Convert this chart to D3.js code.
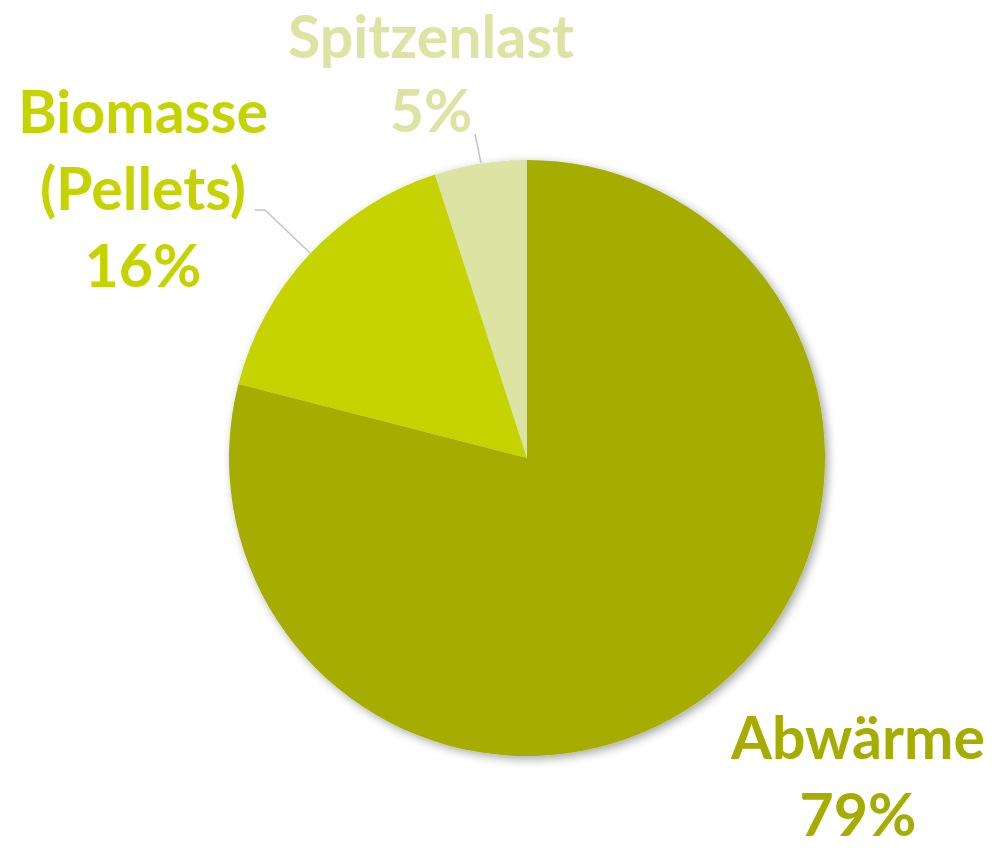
<!DOCTYPE html>
<html>
<head>
<meta charset="utf-8">
<script src="https://cdn.jsdelivr.net/npm/d3@7"></script>
<style>
  body { margin: 0; background: #fff; }
  svg text { font-family: Lato, "Open Sans", sans-serif; font-weight: 700; }
</style>
</head>
<body>
<svg id="chart" width="995" height="849"></svg>
<script>
// Anteile der Wärmeerzeugung
const labels = ["Abwärme", "Biomasse\n(Pellets)", "Spitzenlast"];
const values = [79, 16, 5];
const colors = ["#a4ad00", "#c5d400", "#dce3a3"];

const width = 995, height = 849;
const cx = 527, cy = 458, radius = 298;
const fontSize = 59, lineH = 77;

const svg = d3.select("#chart");

const defs = svg.append("defs");
const shadow = defs.append("filter").attr("id", "shadow")
    .attr("x", "-10%").attr("y", "-10%").attr("width", "120%").attr("height", "120%");
shadow.append("feDropShadow")
    .attr("dx", 3).attr("dy", 3).attr("stdDeviation", 5)
    .attr("flood-color", "#000").attr("flood-opacity", 0.35);

const pie = d3.pie().sort(null).value(d => d);
const arcs = pie(values);
const arc = d3.arc().innerRadius(0).outerRadius(radius);

const g = svg.append("g").attr("transform", `translate(${cx},${cy})`);

g.append("g").attr("filter", "url(#shadow)")
    .selectAll("path")
    .data(arcs)
    .enter()
    .append("path")
    .attr("d", arc)
    .attr("fill", (d, i) => colors[i]);

// Beschriftung: Mittelpunkt jeder Beschriftung, Baseline der ersten Zeile
const labelPos = [
    {x: 858, y: 759, lh: 77},
    {x: 143, y: 133, lh: 77},
    {x: 431, y: 58, lh: 74}
];

// Führungslinien
const leaders = [
    null,
    [[255, 210], [265, 210], [310, 253]],
    [[475, 134], [481, 163]]
];

const line = d3.line();
svg.append("g")
    .selectAll("path")
    .data(leaders.filter(d => d))
    .enter()
    .append("path")
    .attr("d", line)
    .attr("fill", "none")
    .attr("stroke", "#bfc5ca")
    .attr("stroke-width", 1.5);

const lbl = svg.append("g")
    .selectAll("text")
    .data(arcs)
    .enter()
    .append("text")
    .attr("text-anchor", "middle")
    .attr("font-size", fontSize)
    .attr("fill", (d, i) => colors[i]);

lbl.each(function (d, i) {
    const lines = labels[i].split("\n").concat([d.data + "%"]);
    d3.select(this).selectAll("tspan")
        .data(lines)
        .enter()
        .append("tspan")
        .attr("x", labelPos[i].x)
        .attr("y", (t, j) => labelPos[i].y + j * labelPos[i].lh)
        .text(t => t);
});
</script>
</body>
</html>
